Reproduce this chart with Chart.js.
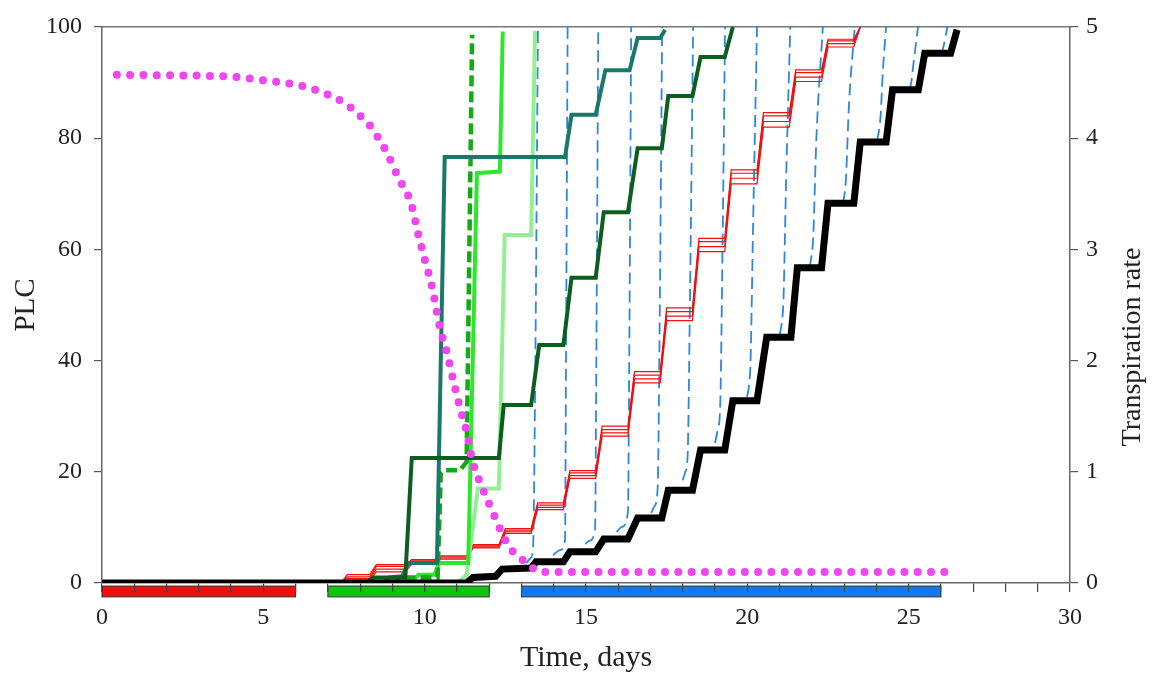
<!DOCTYPE html>
<html>
<head>
<meta charset="utf-8">
<script src="https://cdn.jsdelivr.net/npm/chart.js@4.4.0/dist/chart.umd.min.js"></script>
<style>
  html, body { margin: 0; padding: 0; background: #fff; }
  #wrap { width: 1169px; height: 681px; }
</style>
</head>
<body>
<div id="wrap"><canvas id="plcChart"></canvas></div>
<script>
// values (days, PLC %, transpiration rate)
const blackDays = [0, 11.3, 11.5, 12.2, 12.4, 13.3, 13.45, 14.3, 14.5, 15.3, 15.55, 16.3, 16.6, 17.35, 17.55, 18.3, 18.55, 19.3, 19.55, 20.3, 20.6, 21.35, 21.55, 22.3, 22.5, 23.3, 23.5, 24.3, 24.5, 25.3, 25.5, 26.3, 26.5];
const blackPLC  = [0, 0, 1.0, 1.2, 2.5, 2.7, 3.8, 3.8, 5.6, 5.6, 7.9, 7.9, 11.7, 11.7, 16.7, 16.7, 23.9, 23.9, 32.8, 32.8, 44.2, 44.2, 56.7, 56.7, 68.3, 68.3, 79.3, 79.3, 88.7, 88.7, 95.3, 95.3, 99.5];

const redDays = [0, 7.4, 7.6, 8.3, 8.5, 9.4, 9.6, 10.3, 10.5, 11.3, 11.5, 12.3, 12.5, 13.3, 13.5, 14.3, 14.5, 15.3, 15.5, 16.3, 16.5, 17.3, 17.5, 18.3, 18.5, 19.3, 19.5, 20.3, 20.5, 21.3, 21.5, 22.3, 22.5, 23.3, 23.5];
const redA = [0, 0, 0.5, 0.5, 2.0, 2.0, 3.4, 3.4, 4.3, 4.3, 6.3, 6.3, 8.9, 8.9, 13.2, 13.2, 18.8, 18.8, 26.4, 26.4, 36.0, 36.0, 47.2, 47.2, 59.6, 59.6, 71.8, 71.8, 82.0, 82.0, 90.2, 90.2, 96.4, 96.4, 100];
const redB = [0, 0, 0.8, 0.8, 2.5, 2.5, 3.7, 3.7, 4.5, 4.5, 6.5, 6.5, 9.2, 9.2, 13.6, 13.6, 19.3, 19.3, 27.0, 27.0, 36.7, 36.7, 48.0, 48.0, 60.5, 60.5, 72.8, 72.8, 83.0, 83.0, 91.0, 91.0, 97.0, 97.0, 100];
const redC = [0, 0, 1.1, 1.1, 3.0, 3.0, 4.0, 4.0, 4.7, 4.7, 6.7, 6.7, 9.5, 9.5, 14.0, 14.0, 19.8, 19.8, 27.6, 27.6, 37.4, 37.4, 48.8, 48.8, 61.4, 61.4, 73.7, 73.7, 84.0, 84.0, 91.8, 91.8, 97.5, 97.5, 100];
const redD = [0, 0, 1.5, 1.5, 3.3, 3.3, 4.2, 4.2, 4.9, 4.9, 6.9, 6.9, 9.8, 9.8, 14.4, 14.4, 20.2, 20.2, 28.2, 28.2, 38.0, 38.0, 49.5, 49.5, 62.0, 62.0, 74.3, 74.3, 84.6, 84.6, 92.3, 92.3, 97.8, 97.8, 100];

const darkGreenDays = [0, 8.2, 8.4, 9.4, 9.6, 12.3, 12.45, 13.3, 13.55, 14.3, 14.55, 15.3, 15.55, 16.3, 16.6, 17.35, 17.55, 18.3, 18.55, 19.3, 19.55];
const darkGreenPLC  = [0, 0, 1, 1, 22.5, 22.5, 32, 32, 42.8, 42.8, 54.9, 54.9, 66.7, 66.7, 78.2, 78.2, 87.6, 87.6, 94.6, 94.6, 100];

const tealDays = [0, 8.7, 8.9, 9.3, 9.5, 10.38, 10.62, 14.35, 14.55, 15.3, 15.6, 16.35, 16.6, 17.3, 17.45];
const tealPLC  = [0, 0, 1, 1.2, 3.6, 3.6, 76.6, 76.6, 84.2, 84.2, 92.2, 92.2, 98, 98, 99.5];

const greenDashDays = [0, 9.0, 9.3, 10.4, 10.5, 10.6, 11.1, 11.3, 11.47];
const greenDashPLC  = [0, 0, 1, 1, 19.8, 20.3, 20.3, 21.8, 98.6];

const brightGreenDays = [0, 9.6, 9.8, 10.3, 10.45, 11.35, 11.62, 12.33, 12.42];
const brightGreenPLC  = [0, 0, 1.5, 1.5, 3.6, 3.6, 73.7, 74, 99.2];

const lightGreenDays = [0, 11.0, 11.3, 11.65, 12.3, 12.48, 13.3, 13.42];
const lightGreenPLC  = [0, 0, 1.5, 17, 17, 62.6, 62.6, 99.3];

// thin dashed blue curves, [day, PLC]
const blueCurves = [
  [[13.15, 3.6], [13.3, 4.6], [13.36, 6.5], [13.43, 40], [13.51, 100]],
  [[13.98, 5.0], [14.19, 5.9], [14.35, 7.7], [14.38, 40], [14.43, 100]],
  [[14.98, 7.0], [15.1, 7.6], [15.28, 9.5], [15.32, 40], [15.38, 100]],
  [[15.95, 9.2], [16.11, 10.1], [16.3, 12.8], [16.34, 40], [16.4, 100]],
  [[17.02, 12.6], [17.12, 13.8], [17.22, 17], [17.28, 45], [17.36, 100]],
  [[18.0, 18.5], [18.08, 20], [18.15, 23], [18.22, 50], [18.32, 100]],
  [[19.0, 25.2], [19.08, 27.5], [19.16, 32], [19.22, 55], [19.31, 100]],
  [[19.99, 33.5], [20.05, 35.5], [20.1, 40], [20.18, 65], [20.3, 100]],
  [[21.0, 44.6], [21.06, 46.5], [21.12, 51], [21.2, 72], [21.33, 100]],
  [[21.93, 56.8], [21.98, 58.5], [22.04, 62], [22.14, 80], [22.34, 100]],
  [[22.96, 68.3], [23.0, 69.5], [23.05, 72], [23.15, 86], [23.33, 100]],
  [[24.02, 79.6], [24.07, 81], [24.13, 84], [24.2, 92], [24.3, 100]],
  [[25.02, 88.7], [25.08, 90], [25.14, 93], [25.29, 100]],
  [[26.02, 95.3], [26.08, 96.5], [26.2, 100]]
];

// transpiration rate (right axis)
const transpDays = [0.46, 3.38, 4.18, 5.02, 5.86, 6.66, 7.5, 7.93, 8.34, 8.61, 8.83, 9.02, 9.23, 9.45, 9.61, 9.79, 10.01, 10.23, 10.47, 10.69, 10.88, 11.09, 11.31, 11.47, 11.78, 12.12, 12.49, 12.74, 13.17, 13.57, 26.43];
const transpRate = [4.57, 4.56, 4.55, 4.52, 4.49, 4.43, 4.32, 4.22, 4.10, 3.98, 3.87, 3.75, 3.62, 3.51, 3.38, 3.15, 2.90, 2.66, 2.30, 2.07, 1.83, 1.58, 1.35, 1.11, 0.86, 0.63, 0.39, 0.28, 0.18, 0.10, 0.10];

// treatment periods shown under the time axis
const periodStart = [0, 7, 13];
const periodEnd = [6, 12, 26];
const periodColors = ['#f20d0d', '#12c312', '#1477ea'];

const xTicksLabelled = [0, 5, 10, 15, 20, 25, 30];

function pts(days, vals) {
  return days.map((d, i) => ({ x: d, y: vals[i] }));
}

const periodBars = {
  id: 'periodBars',
  beforeDraw(chart) {
    const { ctx, scales: { x, y } } = chart;
    const top = y.getPixelForValue(-0.55);
    const bottom = y.getPixelForValue(-2.5);
    ctx.save();
    periodStart.forEach((s, i) => {
      const left = x.getPixelForValue(s);
      const right = x.getPixelForValue(periodEnd[i]);
      ctx.fillStyle = periodColors[i];
      ctx.fillRect(left, top, right - left, bottom - top);
      ctx.strokeStyle = '#333';
      ctx.lineWidth = 1;
      ctx.strokeRect(left, top, right - left, bottom - top);
    });
    ctx.restore();
  }
};

// right-hand title reads bottom-to-top like the left one
const rightTitle = {
  id: 'rightTitle',
  afterDraw(chart) {
    const { ctx, scales: { y2 }, chartArea } = chart;
    ctx.save();
    ctx.translate(y2.right - 36, (chartArea.top + chartArea.bottom) / 2 + 42);
    ctx.rotate(-Math.PI / 2);
    ctx.font = "28px 'Liberation Serif'";
    ctx.fillStyle = '#222';
    ctx.textAlign = 'center';
    ctx.textBaseline = 'middle';
    ctx.fillText('Transpiration rate', 0, 0);
    ctx.restore();
  }
};

const stair = (label, data, color, width, order, extra) => Object.assign({
  label, data, borderColor: color, borderWidth: width, pointRadius: 0,
  tension: 0, fill: false, order, yAxisID: 'y'
}, extra || {});

const datasets = [
  {
    label: 'Transpiration', data: pts(transpDays, transpRate), yAxisID: 'y2',
    borderColor: '#f046f0', borderWidth: 8, borderDash: [0, 13.3], borderCapStyle: 'round',
    pointRadius: 0, cubicInterpolationMode: 'monotone', fill: false, order: 0
  },
  stair('Black', pts(blackDays, blackPLC), '#000', 7, 1),
  stair('Dark green', pts(darkGreenDays, darkGreenPLC), '#0d5e1c', 4, 2),
  stair('Teal', pts(tealDays, tealPLC), '#1b7769', 4, 2),
  stair('Green dashed', pts(greenDashDays, greenDashPLC), '#17a817', 4.5, 3, { borderDash: [11, 5] }),
  stair('Bright green', pts(brightGreenDays, brightGreenPLC), '#2fe62f', 4, 3),
  stair('Light green', pts(lightGreenDays, lightGreenPLC), '#92f092', 4, 3),
  stair('Red A', pts(redDays, redA), '#ee1111', 1.2, 4),
  stair('Red B', pts(redDays, redB), '#ee1111', 1.2, 4),
  stair('Red C', pts(redDays, redC), '#ee1111', 1.2, 4),
  stair('Red D', pts(redDays, redD), '#ee1111', 1.2, 4)
];

blueCurves.forEach((c, i) => {
  datasets.push({
    label: 'Blue ' + i, data: c.map(p => ({ x: p[0], y: p[1] })), yAxisID: 'y',
    borderColor: '#2f86de', borderWidth: 1.8, borderDash: [12, 6], pointRadius: 0,
    cubicInterpolationMode: 'monotone', fill: false, order: 5
  });
});

Chart.defaults.font.family = "'Liberation Serif', 'Times New Roman', serif";
Chart.defaults.color = '#222';

const axisColor = '#666';

new Chart(document.getElementById('plcChart').getContext('2d'), {
  type: 'line',
  data: { datasets },
  options: {
    responsive: true,
    maintainAspectRatio: false,
    animation: false,
    layout: { padding: 0 },
    plugins: { legend: { display: false }, tooltip: { enabled: false } },
    scales: {
      x: {
        type: 'linear', position: 'bottom', min: 0, max: 30,
        afterFit: s => { s.height = 98; },
        ticks: {
          stepSize: 1, autoSkip: false, maxRotation: 0, padding: 11,
          font: { size: 24 }, color: '#222',
          callback: v => xTicksLabelled.includes(v) ? v : ''
        },
        grid: { drawOnChartArea: false, drawTicks: true, tickLength: 9, color: '#444', lineWidth: 1.2 },
        border: { color: axisColor, width: 1.5 },
        title: { display: true, text: 'Time, days', font: { size: 30 }, color: '#222', padding: { top: 0, bottom: 5 } }
      },
      xTop: {
        type: 'linear', position: 'top', min: 0, max: 30,
        afterFit: s => { s.height = 27; },
        ticks: { display: false },
        grid: { display: false },
        border: { color: '#777', width: 1.5 }
      },
      y: {
        position: 'left', min: 0, max: 100,
        afterFit: s => { s.width = 102; },
        ticks: { stepSize: 20, padding: 12, font: { size: 24 }, color: '#222' },
        grid: { drawOnChartArea: false, drawTicks: true, tickLength: 8, color: '#555', lineWidth: 1.2 },
        border: { color: axisColor, width: 1.5 },
        title: { display: true, text: 'PLC', font: { size: 29 }, color: '#222', padding: { top: 9, bottom: 0 } }
      },
      y2: {
        position: 'right', min: 0, max: 5,
        afterFit: s => { s.width = 99; },
        ticks: { stepSize: 1, padding: 8, font: { size: 24 }, color: '#222' },
        grid: { drawOnChartArea: false, drawTicks: true, tickLength: 8, color: '#555', lineWidth: 1.2 },
        border: { color: axisColor, width: 1.5 }
      }
    }
  },
  plugins: [periodBars, rightTitle]
});
</script>
</body>
</html>
